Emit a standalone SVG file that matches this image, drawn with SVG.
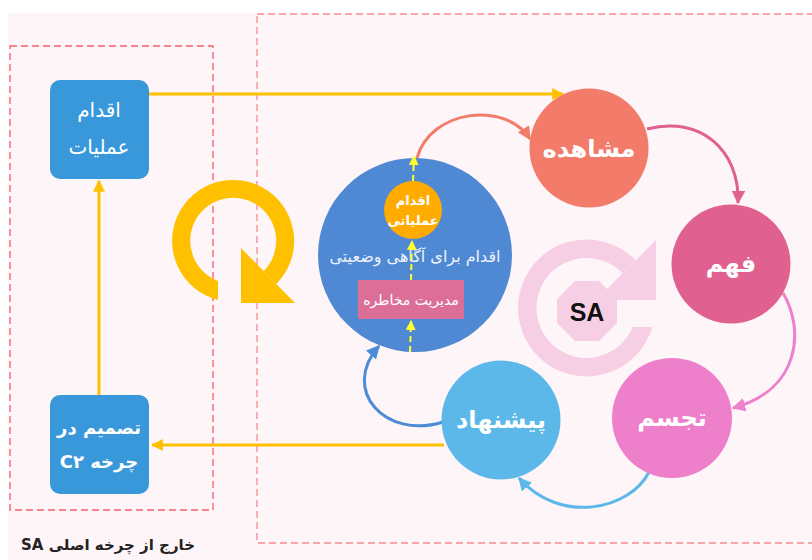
<svg xmlns="http://www.w3.org/2000/svg" width="812" height="560" viewBox="0 0 812 560">
<style>
.ar{font-family:"DejaVu Sans","Noto Sans",sans-serif;}
.node-t{fill:#ffffff;font-weight:bold;font-size:24px;text-anchor:middle;direction:rtl;}
.box{fill:#3898da;}
.box-t{fill:#ffffff;font-size:18px;text-anchor:middle;direction:rtl;}
.yl{stroke:#ffc000;stroke-width:3;fill:none;}
.yd{stroke:#ffff30;stroke-width:2;stroke-dasharray:6,4;fill:none;}
.cv{stroke-width:3;fill:none;}
</style>
<defs>
<marker id="mY" viewBox="0 0 10 10" refX="9" refY="5" markerWidth="4" markerHeight="4" orient="auto"><path d="M0,0 L10,5 L0,10 Z" fill="#ffc000"/></marker>
<marker id="mYD" viewBox="0 0 10 10" refX="9" refY="5" markerWidth="5" markerHeight="5" orient="auto"><path d="M0,0 L10,5 L0,10 Z" fill="#ffff30"/></marker>
<marker id="m1" viewBox="0 0 10 10" refX="9" refY="5" markerWidth="4.5" markerHeight="4.5" orient="auto"><path d="M0,0 L10,5 L0,10 Z" fill="#f27b69"/></marker>
<marker id="m2" viewBox="0 0 10 10" refX="9" refY="5" markerWidth="4.5" markerHeight="4.5" orient="auto"><path d="M0,0 L10,5 L0,10 Z" fill="#e0608f"/></marker>
<marker id="m3" viewBox="0 0 10 10" refX="9" refY="5" markerWidth="4.5" markerHeight="4.5" orient="auto"><path d="M0,0 L10,5 L0,10 Z" fill="#ee7fcb"/></marker>
<marker id="m4" viewBox="0 0 10 10" refX="9" refY="5" markerWidth="4.5" markerHeight="4.5" orient="auto"><path d="M0,0 L10,5 L0,10 Z" fill="#5cb8e8"/></marker>
<marker id="m5" viewBox="0 0 10 10" refX="9" refY="5" markerWidth="4.5" markerHeight="4.5" orient="auto"><path d="M0,0 L10,5 L0,10 Z" fill="#4d8bd6"/></marker>
</defs>

<rect x="0" y="0" width="812" height="560" fill="#ffffff"/>
<rect x="8" y="13" width="804" height="547" fill="#fdf5f8"/>

<g id="frames">
<rect x="257" y="14" width="570" height="529" fill="none" stroke="#f68d8d" stroke-width="1.3" stroke-dasharray="7,4"/>
<rect x="10" y="46" width="203" height="464" fill="none" stroke="#f55f64" stroke-width="1.3" stroke-dasharray="7,4"/>
</g>

<g id="cycle-yellow">
<path d="M218,300 A61,61 0 1 1 276.3,284 L263.7,271.1 A43,43 0 1 0 218,281 Z" fill="#ffc000"/>
<path d="M241,248 L241,303 L295,303 Z" fill="#ffc000"/>
</g>

<g id="cycle-sa">
<path d="M652.3,327 A68.5,68.5 0 1 1 635.7,260.3 L622.6,273.4 A50,50 0 1 0 632.7,327 Z" fill="#f7cfe5"/>
<path d="M656,240 L656,300 L596,300 Z" fill="#f7cfe5"/>
<polygon points="575,281 599,281 617,299 617,323 599,341 575,341 557,323 557,299" fill="#f7cfe5"/>
<text x="587" y="321" font-family="Liberation Sans, Arial, sans-serif" font-weight="bold" font-size="25" text-anchor="middle" fill="#111111">SA</text>
</g>

<g id="connectors">
<path class="yl" d="M149,94 L563,94" marker-end="url(#mY)"/>
<path class="yl" d="M444,445 L152,445" marker-end="url(#mY)"/>
<path class="yl" d="M99,395 L99,181" marker-end="url(#mY)"/>
<path class="cv" stroke="#f27b69" d="M417,158 C430,110 505,100 530,139" marker-end="url(#m1)"/>
<path class="cv" stroke="#e0608f" d="M647,129 C700,115 740,150 738,203" marker-end="url(#m2)"/>
<path class="cv" stroke="#ee7fcb" d="M783,293 C805,330 800,390 733,408" marker-end="url(#m3)"/>
<path class="cv" stroke="#5cb8e8" d="M649,472 C630,510 560,525 519,478" marker-end="url(#m4)"/>
<path class="cv" stroke="#4d8bd6" d="M443,422 C385,440 340,390 379,346" marker-end="url(#m5)"/>
</g>

<g id="node-action-ops">
<rect class="box" x="50" y="80" width="99" height="99" rx="10"/>
<text class="ar box-t" x="99" y="117" style="font-size:20px">اقدام</text>
<text class="ar box-t" x="99" y="154" style="font-size:20px">عملیات</text>
</g>

<g id="node-decision">
<rect class="box" x="50" y="395" width="99" height="99" rx="10"/>
<text class="ar box-t" x="99" y="434" font-weight="bold">تصمیم در</text>
<text class="ar box-t" x="99" y="468" font-weight="bold">چرخه C۲</text>
</g>

<g id="node-sa-action">
<circle cx="415" cy="255" r="97" fill="#4f89d4"/>
<rect x="358" y="280" width="106" height="39" fill="#db6f98"/>
<circle cx="413" cy="210" r="29" fill="#ffab00"/>
<text class="ar" x="415" y="262" font-size="16" fill="#eef2fb" text-anchor="middle" direction="rtl">اقدام برای آگاهی وضعیتی</text>
<text class="ar" x="411" y="305" font-size="14" fill="#ffffff" text-anchor="middle" direction="rtl">مدیریت مخاطره</text>
<text class="ar" x="413" y="205" font-size="13" font-weight="bold" fill="#ffffff" text-anchor="middle" direction="rtl">اقدام</text>
<text class="ar" x="413" y="225" font-size="13" font-weight="bold" fill="#ffffff" text-anchor="middle" direction="rtl">عملیاتی</text>
<path class="yd" d="M410,352 L411,321" marker-end="url(#mYD)"/>
<path class="yd" d="M411,280 L412,241" marker-end="url(#mYD)"/>
<path class="yd" d="M413,181 L414,156" marker-end="url(#mYD)"/>
</g>

<g id="node-observe">
<circle cx="589" cy="148" r="59.5" fill="#f27b69"/>
<text class="ar node-t" x="589" y="157">مشاهده</text>
</g>

<g id="node-understand">
<circle cx="731" cy="264" r="59.5" fill="#e0608f"/>
<text class="ar node-t" x="731" y="272">فهم</text>
</g>

<g id="node-visualize">
<circle cx="672" cy="418" r="60" fill="#ee7fcb"/>
<text class="ar node-t" x="672" y="426">تجسم</text>
</g>

<g id="node-suggest">
<circle cx="501" cy="420" r="59.5" fill="#5cb8e8"/>
<text class="ar node-t" x="501" y="428">پیشنهاد</text>
</g>

<text class="ar" x="108" y="550" font-size="15" font-weight="bold" fill="#222222" text-anchor="middle" direction="rtl">خارج از چرخه اصلی SA</text>
</svg>
